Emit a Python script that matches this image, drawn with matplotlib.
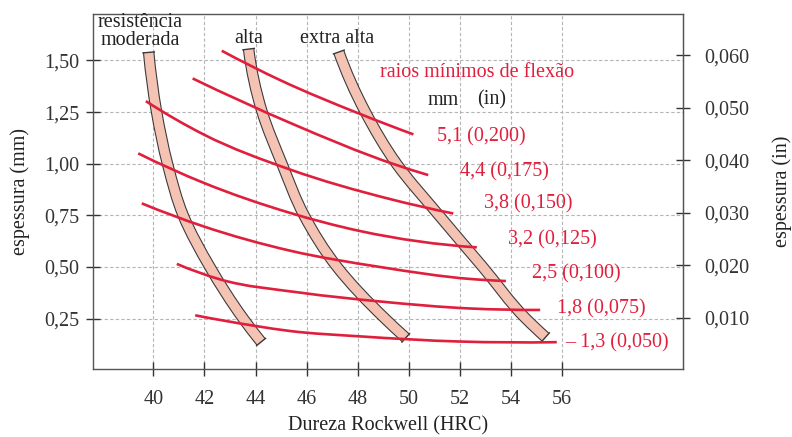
import matplotlib
matplotlib.use("Agg")
import matplotlib.pyplot as plt
import numpy as np
from matplotlib.patches import PathPatch
from matplotlib.path import Path
from matplotlib.lines import Line2D
from matplotlib.transforms import IdentityTransform
from matplotlib.ticker import FixedLocator, FuncFormatter

plt.rcParams['font.family'] = ['Liberation Serif', 'DejaVu Serif']

# ---------------- data ----------------
hrc_ticks = [40, 42, 44, 46, 48, 50, 52, 54, 56]
mm_ticks = [0.25, 0.50, 0.75, 1.00, 1.25, 1.50]
in_ticks = [0.010, 0.020, 0.030, 0.040, 0.050, 0.060]

band_names = ['resistência\nmoderada', 'alta', 'extra alta']
band_moderada_hrc = [39.82, 40.13, 40.56, 41.17, 42.22, 43.52, 44.22]
band_moderada_mm = [1.539, 1.250, 0.998, 0.750, 0.499, 0.250, 0.137]
band_alta_hrc = [43.73, 44.26, 45.04, 45.90, 47.20, 49.07, 49.88]
band_alta_mm = [1.555, 1.250, 0.998, 0.750, 0.499, 0.250, 0.157]
band_extra_hrc = [47.26, 48.30, 49.53, 51.18, 52.90, 54.58, 55.35]
band_extra_mm = [1.541, 1.250, 0.998, 0.750, 0.499, 0.250, 0.160]

radius_labels = ['5,1 (0,200)', '4,4 (0,175)', '3,8 (0,150)', '3,2 (0,125)',
                 '2,5 (0,100)', '1,8 (0,075)', '\u2013 1,3 (0,050)']
r51_hrc = [42.68, 44.96, 48.09, 50.18]
r51_mm = [1.547, 1.405, 1.241, 1.142]
r44_hrc = [41.54, 45.35, 49.39, 50.76]
r44_mm = [1.413, 1.198, 0.999, 0.945]
r38_hrc = [39.71, 41.98, 45.35, 49.26, 51.74]
r38_mm = [1.303, 1.141, 0.972, 0.829, 0.759]
r32_hrc = [39.41, 41.98, 45.35, 48.09, 52.66]
r32_mm = [1.050, 0.907, 0.762, 0.674, 0.595]
r25_hrc = [39.55, 41.98, 45.35, 48.87, 52.40, 53.80]
r25_mm = [0.808, 0.696, 0.579, 0.500, 0.442, 0.432]
r18_hrc = [40.92, 42.61, 45.74, 48.87, 52.40, 55.14]
r18_mm = [0.515, 0.440, 0.376, 0.333, 0.299, 0.292]
r13_hrc = [41.64, 44.02, 45.35, 48.09, 52.00, 55.79]
r13_mm = [0.266, 0.214, 0.190, 0.164, 0.139, 0.136]

# ---------------- layout (positions) ----------------
radius_label_pos = [(51.09, 1.131), (52.00, 0.961), (52.94, 0.805), (53.89, 0.631),
                    (54.81, 0.466), (55.79, 0.295), (56.11, 0.131)]
band_label_pos = [(39.50, 1.640), (43.75, 1.604), (47.21, 1.604)]

RED = '#e01f3d'
FILL = '#f5c3b4'
EDGE = '#3a3a3a'
FS = 14.5

fig = plt.figure(figsize=(7.92, 4.37), dpi=100)
ax = fig.add_axes([0.1174, 0.1556, 0.745, 0.8124])
ax.set_xlim(37.64, 60.73)
ax.set_ylim(0.006, 1.725)

ax.xaxis.set_major_locator(FixedLocator(hrc_ticks))
ax.yaxis.set_major_locator(FixedLocator(mm_ticks))
ax.xaxis.set_major_formatter(FuncFormatter(lambda v, p: f"{v:.0f}"))
ax.yaxis.set_major_formatter(FuncFormatter(lambda v, p: f"{v:.2f}".replace('.', ',')))
ax.grid(True, color='#b5b5b5', linestyle=(0, (3, 2)), linewidth=0.8)
ax.set_axisbelow(True)
ax.tick_params(direction='inout', length=10, width=1.0, color='#333333',
               labelsize=FS, labelcolor='#333333')
ax.tick_params(axis='y', pad=5)
ax.tick_params(axis='x', pad=10)
for s in ax.spines.values():
    s.set_color('#555555')
    s.set_linewidth(1.0)

sec = ax.secondary_yaxis('right', functions=(lambda y: y / 25.4, lambda y: y * 25.4))
sec.yaxis.set_major_locator(FixedLocator(in_ticks))
sec.yaxis.set_major_formatter(FuncFormatter(lambda v, p: f"{v:.3f}".replace('.', ',')))
sec.tick_params(direction='inout', length=10, width=1.0, color='#333333',
                labelsize=FS, labelcolor='#333333', pad=10)
sec.spines['right'].set_color('#555555')
sec.set_ylabel('espessura (in)', fontsize=FS, color='#222222', labelpad=17)

ax.set_xlabel('Dureza Rockwell (HRC)', fontsize=FS, color='#222222', labelpad=5.5)
ax.set_ylabel('espessura (mm)', fontsize=FS, color='#222222', labelpad=10)


def smooth_path(xs, ys, along='x'):
    """Cubic Hermite curve through the read points (display coords), as Bezier segments."""
    p = ax.transData.transform(np.column_stack([xs, ys]))
    if along == 'x':
        u, v = p[:, 0], p[:, 1]
    else:
        u, v = p[:, 1], p[:, 0]
    h = np.diff(u)
    d = np.diff(v) / h
    n = len(u)
    m = np.zeros(n)
    if n == 2:
        m[:] = d[0]
    else:
        for i in range(1, n - 1):
            m[i] = (h[i] * d[i - 1] + h[i - 1] * d[i]) / (h[i - 1] + h[i])
        m[0] = ((2 * h[0] + h[1]) * d[0] - h[0] * d[1]) / (h[0] + h[1])
        m[-1] = ((2 * h[-1] + h[-2]) * d[-1] - h[-1] * d[-2]) / (h[-1] + h[-2])
    uv = [(u[0], v[0])]
    codes = [Path.MOVETO]
    for i in range(n - 1):
        uv += [(u[i] + h[i] / 3, v[i] + m[i] * h[i] / 3),
               (u[i + 1] - h[i] / 3, v[i + 1] - m[i + 1] * h[i] / 3),
               (u[i + 1], v[i + 1])]
        codes += [Path.CURVE4] * 3
    uv = np.array(uv)
    verts = uv if along == 'x' else uv[:, ::-1]
    return Path(verts, codes), verts


def band(xs, ys, outer_px=11.5, inner_px=9.3):
    path, verts = smooth_path(xs, ys, along='y')
    pt = 72.0 / fig.dpi
    ax.add_patch(PathPatch(path, transform=IdentityTransform(), fill=False,
                           edgecolor=EDGE, linewidth=outer_px * pt,
                           capstyle='butt', joinstyle='round', zorder=2))
    ax.add_patch(PathPatch(path, transform=IdentityTransform(), fill=False,
                           edgecolor=FILL, linewidth=inner_px * pt,
                           capstyle='butt', joinstyle='round', zorder=2.1))
    for end, ctrl in ((verts[0], verts[1]), (verts[-1], verts[-2])):
        t = np.asarray(ctrl) - np.asarray(end)
        t = t / np.linalg.norm(t)
        nrm = np.array([-t[1], t[0]])
        a = end + nrm * outer_px / 2
        b = end - nrm * outer_px / 2
        ax.add_line(Line2D([a[0], b[0]], [a[1], b[1]], transform=IdentityTransform(),
                           color=EDGE, linewidth=1.0, zorder=2.2))


band(band_moderada_hrc, band_moderada_mm)
band(band_alta_hrc, band_alta_mm)
band(band_extra_hrc, band_extra_mm)

curves = [(r51_hrc, r51_mm), (r44_hrc, r44_mm), (r38_hrc, r38_mm), (r32_hrc, r32_mm),
          (r25_hrc, r25_mm), (r18_hrc, r18_mm), (r13_hrc, r13_mm)]
for (xs, ys) in curves:
    path, _ = smooth_path(xs, ys, along='x')
    ax.add_patch(PathPatch(path, transform=IdentityTransform(), fill=False,
                           edgecolor=RED, linewidth=1.9, capstyle='butt', zorder=3))

for lab, (x, y) in zip(radius_labels, radius_label_pos):
    ax.text(x, y, lab, color=RED, fontsize=FS, ha='left', va='center', zorder=4)

for lab, (x, y) in zip(band_names, band_label_pos):
    ax.text(x, y, lab, color='#222222', fontsize=FS, ha='center', va='center',
            linespacing=0.95, zorder=4)

ax.text(48.87, 1.444, 'raios mínimos de flexão', color=RED, fontsize=FS,
        ha='left', va='center', zorder=4)
ax.text(50.75, 1.308, 'mm', color='#222222', fontsize=FS, ha='left', va='center', zorder=4)
ax.text(52.67, 1.308, '(in)', color='#222222', fontsize=FS, ha='left', va='center', zorder=4)

fig.savefig('out.png', dpi=100)
